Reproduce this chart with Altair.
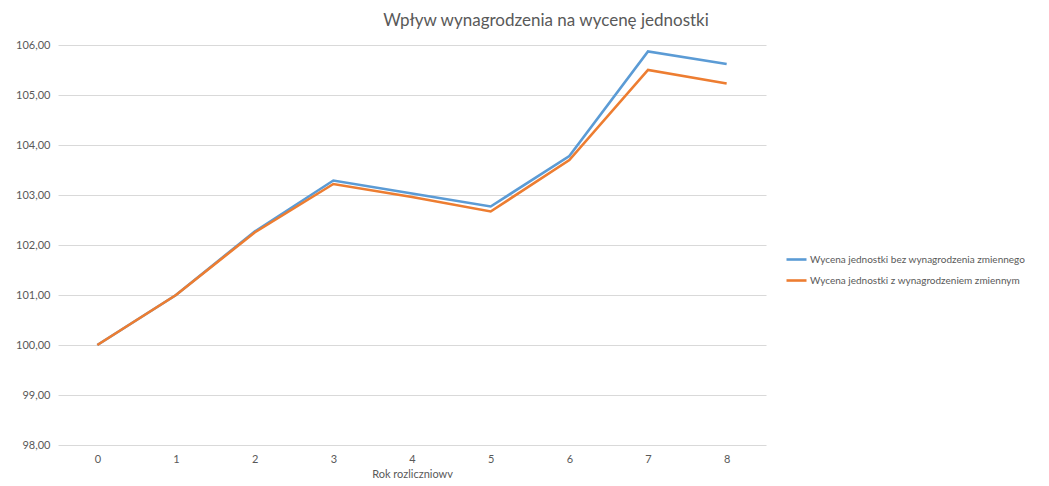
import altair as alt
import pandas as pd

years = ["0", "1", "2", "3", "4", "5", "6", "7", "8"]
bez = [100.00, 101.00, 102.27, 103.29, 103.03, 102.77, 103.78, 105.87, 105.62]
z = [100.00, 101.00, 102.25, 103.22, 102.96, 102.67, 103.70, 105.50, 105.23]
series_names = [
    "Wycena jednostki bez wynagrodzenia zmiennego",
    "Wycena jednostki z wynagrodzeniem zmiennym",
]
colors = ["#5B9BD5", "#ED7D31"]

rows = []
for name, vals in zip(series_names, [bez, z]):
    for y, v in zip(years, vals):
        rows.append({"Rok": y, "Wartosc": v, "Seria": name})
df = pd.DataFrame(rows)

FONT = "Lato"
GRAY = "#595959"

chart = alt.Chart(df).mark_line(strokeWidth=2.6, strokeJoin="miter").encode(
    x=alt.X("Rok:O", sort=years, scale=alt.Scale(type="point", padding=0.5),
            axis=alt.Axis(title="Rok rozliczniowy", labelAngle=0, domain=False, ticks=False,
                          labelPadding=8, titlePadding=4, labelColor=GRAY, titleColor=GRAY,
                          labelFontSize=11, titleFontSize=11, titleFontWeight="normal",
                          labelFont=FONT, titleFont=FONT)),
    y=alt.Y("Wartosc:Q", scale=alt.Scale(domain=[98, 106], nice=False, zero=False),
            axis=alt.Axis(title=None, values=[98, 99, 100, 101, 102, 103, 104, 105, 106],
                          labelExpr="replace(format(datum.value, '.2f'), '.', ',')",
                          domain=False, ticks=False, labelPadding=8, gridColor="#d9d9d9",
                          gridWidth=1, labelColor=GRAY, labelFontSize=11, labelFont=FONT)),
    color=alt.Color("Seria:N", sort=series_names,
                    scale=alt.Scale(domain=series_names, range=colors),
                    legend=alt.Legend(title=None, orient="none", legendX=727, legendY=203,
                                      symbolType="stroke", symbolSize=400, symbolStrokeWidth=2.6,
                                      labelFontSize=10, labelColor=GRAY, labelFont=FONT,
                                      labelLimit=0, rowPadding=4, labelOffset=2)),
).properties(
    width=708,
    height=400,
    padding={"left": 50, "top": 37, "right": 270, "bottom": 33},
    autosize=alt.AutoSizeParams(type="none"),
    background="white",
    title=alt.TitleParams("Wpływ wynagrodzenia na wycenę jednostki", fontSize=17,
                          font=FONT, fontWeight="normal", color=GRAY, anchor="middle",
                          dx=134, offset=9),
).configure_view(stroke="transparent")

chart.save("out.html", embed_options={"renderer": "svg", "actions": False})
